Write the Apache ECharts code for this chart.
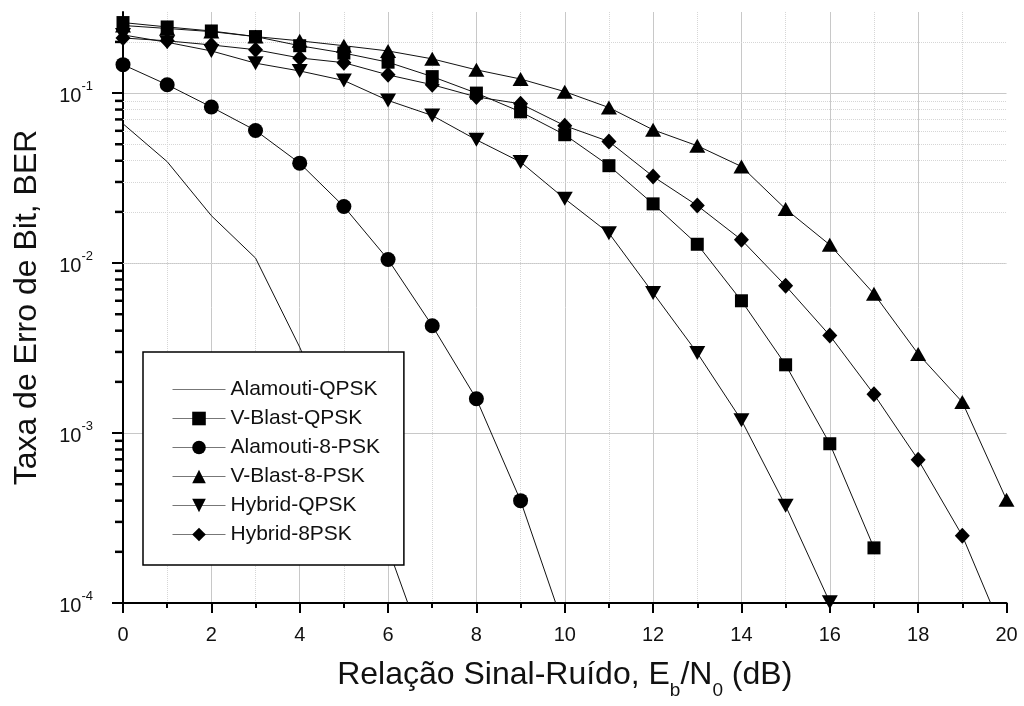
<!DOCTYPE html>
<html><head><meta charset="utf-8">
<script src="https://cdn.jsdelivr.net/npm/echarts@6/dist/echarts.min.js"></script>
<style>html,body{margin:0;padding:0;background:#fff}#c{width:1024px;height:706px}</style>
</head><body><div id="c"></div>
<script>
// ---- data ----
const snr = [0,1,2,3,4,5,6,7,8,9,10,11,12,13,14,15,16,17,18,19,20];
const seriesNames = ['Alamouti-QPSK','V-Blast-QPSK','Alamouti-8-PSK','V-Blast-8-PSK','Hybrid-QPSK','Hybrid-8PSK'];
const alamoutiQPSK = [0.066,0.0395,0.019,0.0107,0.0032,0.0008,0.00021,0.00004];
const vblastQPSK = [0.26,0.245,0.232,0.215,0.19,0.172,0.152,0.125,0.1,0.0776,0.0569,0.0374,0.0223,0.0129,0.006,0.00252,0.000865,0.000211];
const alamouti8PSK = [0.147,0.112,0.0828,0.0603,0.0387,0.0215,0.0105,0.00428,0.00159,0.0004,0.00007];
const vblast8PSK = [0.25,0.24,0.23,0.215,0.203,0.19,0.177,0.159,0.137,0.121,0.102,0.0822,0.0608,0.049,0.037,0.0208,0.0128,0.00659,0.00292,0.00152,0.000405];
const hybridQPSK = [0.22,0.199,0.177,0.15,0.135,0.1186,0.0905,0.0738,0.0531,0.0393,0.0239,0.015,0.00667,0.00296,0.00119,0.000373,0.000101];
const hybrid8PSK = [0.211,0.203,0.192,0.18,0.161,0.151,0.128,0.112,0.095,0.0865,0.0643,0.0519,0.0323,0.0218,0.0137,0.00735,0.00375,0.00169,0.000697,0.000249,0.00006];
const yMinorTicks = [2e-4,3e-4,4e-4,5e-4,6e-4,7e-4,8e-4,9e-4,2e-3,3e-3,4e-3,5e-3,6e-3,7e-3,8e-3,9e-3,2e-2,3e-2,4e-2,5e-2,6e-2,7e-2,8e-2,9e-2,2e-1];

const FONT = 'Liberation Sans, Arial, Helvetica, sans-serif';
const pairs = arr => arr.map((v, i) => [snr[i], v]);

function mk(name, arr, symbol, size, rotate) {
  return {
    name: name, type: 'line', data: pairs(arr),
    symbol: symbol, symbolSize: size, symbolRotate: rotate || 0,
    showSymbol: symbol !== 'none',
    lineStyle: {color: '#111', width: 1},
    itemStyle: {color: '#000'},
    z: 3, clip: true, animation: false
  };
}

const legendData = seriesNames.map((n, i) => i === 0
  ? {name: n, itemStyle: {color: 'rgba(0,0,0,0)', opacity: 0, borderWidth: 0}}
  : {name: n});

const chart = echarts.init(document.getElementById('c'), null, {renderer: 'canvas'});
const option = {
  animation: false,
  backgroundColor: '#fff',
  textStyle: {fontFamily: FONT},
  grid: {left: 123, right: 17.5, top: 12, bottom: 103},
  legend: {
    orient: 'vertical', left: 143, top: 352,
    data: legendData,
    padding: [27, 24, 20, 29],
    itemWidth: 53, itemHeight: 17, itemGap: 8,
    backgroundColor: '#fff', borderColor: '#000', borderWidth: 1.5, borderRadius: 0,
    textStyle: {fontFamily: FONT, fontSize: 21, color: '#111', lineHeight: 21},
    lineStyle: {color: '#777', width: 1},
    selectedMode: false
  },
  xAxis: {
    type: 'value', min: 0, max: 20, interval: 2,
    axisLine: {show: true, onZero: false, lineStyle: {color: '#000', width: 2}},
    axisTick: {show: true, inside: false, length: 10, lineStyle: {color: '#000', width: 2}},
    minorTick: {show: true, splitNumber: 2, length: 5, lineStyle: {color: '#000', width: 2}},
    splitLine: {show: true, showMinLine: false, showMaxLine: false, lineStyle: {color: '#c8c8c8', width: 1}},
    minorSplitLine: {show: true, lineStyle: {color: '#d6d6d6', width: 1, type: 'dotted'}},
    axisLabel: {fontFamily: FONT, fontSize: 20, color: '#111', margin: 22},
    name: '{m|Relação Sinal-Ruído, E}{sub|b}{m|/N}{sub|0}{m| (dB)}',
    nameLocation: 'middle', nameGap: 56,
    nameTextStyle: {
      fontFamily: FONT, fontSize: 32, color: '#111',
      rich: {
        m: {fontFamily: FONT, fontSize: 32, lineHeight: 36, verticalAlign: 'top', color: '#111'},
        sub: {fontFamily: FONT, fontSize: 19, lineHeight: 19, verticalAlign: 'top', padding: [22, 0, 0, 0], color: '#111'}
      }
    }
  },
  yAxis: {
    type: 'log', logBase: 10, min: 1e-4, max: 0.3, splitNumber: 3,
    axisLine: {show: true, lineStyle: {color: '#000', width: 2}},
    axisTick: {show: true, inside: false, length: 11, lineStyle: {color: '#000', width: 2}},
    splitLine: {show: true, showMinLine: false, showMaxLine: false, lineStyle: {color: '#c8c8c8', width: 1}},
    axisLabel: {
      margin: 30, showMaxLabel: false, color: '#111',
      formatter: function (v) {
        const e = Math.log10(v), r = Math.round(e);
        if (Math.abs(e - r) > 1e-6) return '';
        return '{b|10}{s|' + (r < 0 ? '-' : '') + Math.abs(r) + '}';
      },
      rich: {
        b: {fontFamily: FONT, fontSize: 20, lineHeight: 26, verticalAlign: 'bottom', color: '#111'},
        s: {fontFamily: FONT, fontSize: 13, lineHeight: 16, verticalAlign: 'top', color: '#111'}
      }
    },
    name: 'Taxa de Erro de Bit, BER',
    nameLocation: 'middle', nameGap: 80,
    nameTextStyle: {fontFamily: FONT, fontSize: 32, color: '#111'}
  },
  series: [
    {
      name: '_minorgrid', type: 'line', data: [], z: 1, silent: true,
      markLine: {
        silent: true, symbol: 'none', z: 1, animation: false,
        label: {show: false},
        lineStyle: {color: '#d6d6d6', width: 1, type: 'dotted'},
        data: yMinorTicks.map(v => ({yAxis: v}))
      }
    },
    {
      name: '_minorticks', type: 'scatter', silent: true, z: 10, clip: false,
      data: yMinorTicks.map(v => [0, v]),
      symbol: 'rect', symbolSize: [8, 2.5], symbolOffset: [-4, 0],
      itemStyle: {color: '#000', opacity: 1},
      emphasis: {disabled: true}
    },
    mk(seriesNames[0], alamoutiQPSK, 'none', 0),
    mk(seriesNames[1], vblastQPSK, 'rect', 13),
    mk(seriesNames[2], alamouti8PSK, 'circle', 15),
    mk(seriesNames[3], vblast8PSK, 'triangle', [16, 14]),
    mk(seriesNames[4], hybridQPSK, 'triangle', [16, 14], 180),
    mk(seriesNames[5], hybrid8PSK, 'diamond', [15, 16])
  ]
};
chart.setOption(option);
</script>
</body></html>
